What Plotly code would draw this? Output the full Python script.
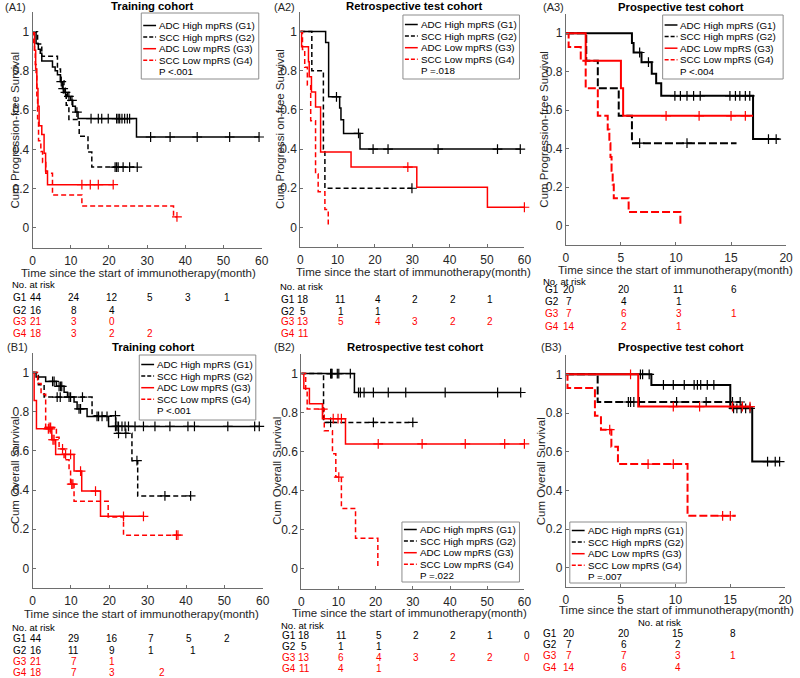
import plotly.graph_objects as go

# ---------------- data ----------------
GROUPS = ["ADC High mpRS (G1)", "SCC High mpRS (G2)", "ADC Low mpRS (G3)", "SCC Low mpRS (G4)"]
ROW_LABELS = ["G1", "G2", "G3", "G4"]

# A1 Training cohort, PFS
A1_G1_T = [0.9, 1.5, 2.0, 2.4, 5.2, 5.9, 6.5, 7.3, 7.8, 8.2, 9.1, 9.9, 10.5, 11.2, 11.9, 27.2]
A1_G1_S = [0.94, 0.91, 0.89, 0.85, 0.82, 0.80, 0.78, 0.745, 0.71, 0.69, 0.67, 0.65, 0.62, 0.59, 0.557, 0.463]
A1_G1_C = [7.5, 8.0, 8.6, 9.5, 10.3, 11.6, 15.3, 17.2, 18.1, 19.8, 22.0, 22.4, 22.8, 23.4, 24.1, 24.8,
           25.4, 30.9, 36.0, 43.1, 51.6, 59.3]
A1_G2_T = [1.3, 2.4, 6.5, 7.3, 8.2, 8.8, 9.5, 12.2, 14.5, 15.5]
A1_G2_S = [0.9375, 0.875, 0.81, 0.75, 0.69, 0.625, 0.552, 0.467, 0.386, 0.31]
A1_G2_C = [21.6, 22.0, 22.4, 23.7, 25.4, 27.4]
A1_G3_T = [0.5, 0.8, 1.1, 1.4, 1.7, 2.4, 3.0, 3.4, 3.9]
A1_G3_S = [0.905, 0.81, 0.71, 0.62, 0.52, 0.476, 0.38, 0.29, 0.22]
A1_G3_C = [12.9, 15.1, 17.2, 21.1]
A1_G4_T = [0.3, 0.5, 0.7, 0.9, 1.1, 1.3, 1.55, 2.15, 2.6, 3.45, 5.2, 12.9, 36.9]
A1_G4_S = [0.944, 0.889, 0.833, 0.778, 0.667, 0.556, 0.444, 0.389, 0.333, 0.278, 0.167, 0.111, 0.056]
A1_G4_C = [37.8]
A1_END = [59.3, 27.4, 21.1, 37.8]
A1_RISK_T = [[0, 10, 20, 30, 40, 50], [0, 10, 20], [0, 10, 20], [0, 10, 20, 30]]
A1_RISK = [[44, 24, 12, 5, 3, 1], [16, 8, 4], [21, 3, 0], [18, 3, 2, 2]]

# A2 Retrospective test cohort, PFS
A2_G1_T = [6.8, 7.6, 10.55, 10.9, 11.6, 16.0]
A2_G1_S = [0.944, 0.667, 0.61, 0.55, 0.48, 0.40]
A2_G1_C = [9.7, 15.6, 19.5, 23.5, 36.9, 52.8, 58.9]
A2_G2_T = [3.1, 6.2, 6.6]
A2_G2_S = [0.8, 0.4, 0.2]
A2_G2_C = [29.9]
A2_G3_T = [0.35, 2.2, 2.4, 3.0, 4.1, 5.45, 13.6, 31.2, 50.1]
A2_G3_S = [0.923, 0.846, 0.769, 0.692, 0.615, 0.385, 0.308, 0.205, 0.103]
A2_G3_C = [28.8, 60.0]
A2_G4_T = [0.6, 1.2, 1.9, 2.8, 4.1, 4.8, 6.6, 7.5]
A2_G4_S = [0.909, 0.818, 0.727, 0.545, 0.273, 0.182, 0.091, 0.0]
A2_G4_C = []
A2_END = [58.9, 29.9, 60.0, 7.5]
A2_RISK_T = [[0, 10, 20, 30, 40, 50], [0, 10, 20], [0, 10, 20, 30, 40, 50], [0]]
A2_RISK = [[18, 11, 4, 2, 2, 1], [5, 1, 1], [13, 5, 4, 3, 2, 2], [11]]

# A3 Prospective test cohort, PFS
A3_G1_T = [6.0, 6.15, 6.87, 7.8, 8.2, 8.66, 17.0]
A3_G1_S = [0.95, 0.90, 0.85, 0.79, 0.74, 0.675, 0.45]
A3_G1_C = [6.7, 7.5, 9.9, 10.4, 11.0, 11.6, 12.2, 14.9, 15.4, 15.8, 16.3, 16.7, 18.4, 19.1]
A3_G2_T = [1.85, 2.9, 4.8, 6.0]
A3_G2_S = [0.857, 0.714, 0.571, 0.429]
A3_G2_C = [6.7, 11.0]
A3_G3_T = [1.8, 5.0, 5.2]
A3_G3_S = [0.857, 0.714, 0.571]
A3_G3_C = [9.1, 12.1, 15.0, 16.3]
A3_G4_T = [0.25, 1.35, 1.8, 2.9, 3.8, 3.95, 4.05, 4.15, 4.25, 4.35, 5.7, 10.4]
A3_G4_S = [0.929, 0.857, 0.714, 0.571, 0.5, 0.429, 0.357, 0.286, 0.214, 0.143, 0.071, 0.0]
A3_G4_C = []
A3_END = [19.4, 15.5, 17.0, 10.4]
A3_RISK_T = [[0, 5, 10, 15], [0, 5, 10], [0, 5, 10, 15], [0, 5, 10]]
A3_RISK = [[20, 20, 11, 6], [7, 4, 1], [7, 6, 3, 1], [14, 2, 1]]

# B1 Training cohort, OS
B1_G1_T = [0.9, 3.4, 6.2, 8.2, 9.1, 10.8, 11.6, 14.2, 19.8]
B1_G1_S = [0.977, 0.955, 0.93, 0.9, 0.875, 0.85, 0.815, 0.776, 0.725]
B1_G1_C = [5.2, 5.6, 6.9, 7.3, 7.6, 9.5, 9.9, 12.1, 12.5, 16.8, 17.2, 18.1, 19.4, 21.6, 22.0, 22.4,
           23.3, 24.1, 25.0, 26.7, 28.9, 31.9, 35.8, 40.5, 42.2, 50.9, 57.9, 59.1]
B1_G2_T = [1.5, 3.0, 15.5, 21.7, 25.9, 27.4]
B1_G2_S = [0.9375, 0.875, 0.78, 0.69, 0.55, 0.37]
B1_G2_C = [6.4, 7.2, 13.0, 21.6, 22.4, 24.3, 27.2, 34.5, 41.2]
B1_G3_T = [0.4, 1.0, 5.0, 6.0, 10.8, 12.8, 17.7]
B1_G3_S = [0.857, 0.713, 0.657, 0.582, 0.497, 0.395, 0.266]
B1_G3_C = [4.1, 4.6, 5.3, 5.6, 8.6, 9.9, 12.5, 16.4, 23.7, 28.9]
B1_G4_T = [1.3, 2.2, 3.4, 6.2, 6.9, 8.2, 9.5, 9.9, 10.8, 19.7, 23.7]
B1_G4_S = [0.944, 0.889, 0.72, 0.67, 0.61, 0.555, 0.5, 0.43, 0.343, 0.263, 0.17]
B1_G4_C = [4.3, 4.7, 7.8, 10.2, 10.5, 37.5, 37.9]
B1_END = [59.1, 41.2, 28.9, 37.9]
B1_RISK_T = [[0, 10, 20, 30, 40, 50], [0, 10, 20, 30, 41], [0, 10, 20], [0, 10, 20, 33]]
B1_RISK = [[44, 29, 16, 7, 5, 2], [16, 11, 9, 1, 1], [21, 7, 1], [18, 7, 3, 2]]

# B2 Retrospective test cohort, OS
B2_G1_T = [14.3]
B2_G1_S = [0.903]
B2_G1_C = [7.9, 8.1, 8.3, 9.7, 10.1, 13.2, 15.4, 15.9, 16.9, 19.4, 23.4, 28.1, 38.7, 52.8, 59.0]
B2_G2_T = [6.0]
B2_G2_S = [0.75]
B2_G2_C = [7.9, 19.4, 30.0]
B2_G3_T = [0.7, 2.2, 5.7, 11.9]
B2_G3_S = [0.923, 0.846, 0.769, 0.64]
B2_G3_C = [8.6, 9.9, 10.8, 20.7, 32.5, 44.1, 54.7, 60.0]
B2_G4_T = [1.2, 1.6, 6.2, 8.4, 9.3, 10.8, 14.6, 20.6]
B2_G4_S = [0.909, 0.818, 0.707, 0.59, 0.47, 0.31, 0.157, 0.0]
B2_G4_C = [5.8, 10.1]
B2_END = [59.0, 30.0, 60.0, 20.6]
B2_RISK_T = [[0, 10, 20, 30, 40, 50, 60], [0, 10, 20], [0, 10, 20, 30, 40, 50, 60], [0, 10, 20]]
B2_RISK = [[18, 11, 5, 2, 2, 1, 0], [5, 1, 1], [13, 6, 4, 3, 2, 2, 0], [11, 4, 1]]

# B3 Prospective test cohort, OS
B3_G1_T = [7.8, 15.0, 17.0]
B3_G1_S = [0.945, 0.824, 0.549]
B3_G1_C = [6.8, 7.0, 7.6, 8.9, 9.8, 10.8, 11.7, 12.0, 12.3, 12.9, 13.5, 15.3, 15.6, 16.0, 16.4,
           16.8, 18.4, 19.1, 19.5]
B3_G2_T = [2.9]
B3_G2_S = [0.857]
B3_G2_C = [5.7, 5.9, 6.2, 6.7, 10.1, 12.8, 15.2, 15.9]
B3_G3_T = [6.6]
B3_G3_S = [0.833]
B3_G3_C = [5.9, 9.8, 12.2, 15.2, 16.1, 16.8]
B3_G4_T = [0.15, 2.65, 3.2, 4.15, 4.75, 11.1]
B3_G4_S = [0.929, 0.786, 0.714, 0.625, 0.536, 0.268]
B3_G4_C = [4.0, 7.5, 9.8, 14.3, 15.0]
B3_END = [19.5, 15.9, 16.8, 15.5]
B3_RISK_T = [[0, 5, 10, 15], [0, 5, 10], [0, 5, 10, 15], [0, 5, 10]]
B3_RISK = [[20, 20, 15, 8], [7, 6, 2], [7, 7, 3, 1], [14, 6, 4]]

P_VALUES = ["P <.001", "P =.018", "P <.004", "P <.001", "P =.022", "P =.007"]
TITLES = ["Training cohort", "Retrospective test cohort", "Prospective test cohort"] * 2
PANEL_TAGS = ["(A1)", "(A2)", "(A3)", "(B1)", "(B2)", "(B3)"]
Y_TITLES = ["Cum Progression-free Survival", "Cum Progressi on-free Survival", "Cum Progression-free Survival",
            "Cum Overall Survival", "Cum Overall Survival", "Cum Overall Survival"]
X_TITLE = "Time since the start of immunotherapy(month)"
Y_TICKS = [0, 0.2, 0.4, 0.6, 0.8, 1]
Y_TICKTEXT = ["0", "0.2", "0.4", "0.6", "0.8", "1"]

CURVES = [
    [(A1_G1_T, A1_G1_S, A1_G1_C), (A1_G2_T, A1_G2_S, A1_G2_C), (A1_G3_T, A1_G3_S, A1_G3_C), (A1_G4_T, A1_G4_S, A1_G4_C)],
    [(A2_G1_T, A2_G1_S, A2_G1_C), (A2_G2_T, A2_G2_S, A2_G2_C), (A2_G3_T, A2_G3_S, A2_G3_C), (A2_G4_T, A2_G4_S, A2_G4_C)],
    [(A3_G1_T, A3_G1_S, A3_G1_C), (A3_G2_T, A3_G2_S, A3_G2_C), (A3_G3_T, A3_G3_S, A3_G3_C), (A3_G4_T, A3_G4_S, A3_G4_C)],
    [(B1_G1_T, B1_G1_S, B1_G1_C), (B1_G2_T, B1_G2_S, B1_G2_C), (B1_G3_T, B1_G3_S, B1_G3_C), (B1_G4_T, B1_G4_S, B1_G4_C)],
    [(B2_G1_T, B2_G1_S, B2_G1_C), (B2_G2_T, B2_G2_S, B2_G2_C), (B2_G3_T, B2_G3_S, B2_G3_C), (B2_G4_T, B2_G4_S, B2_G4_C)],
    [(B3_G1_T, B3_G1_S, B3_G1_C), (B3_G2_T, B3_G2_S, B3_G2_C), (B3_G3_T, B3_G3_S, B3_G3_C), (B3_G4_T, B3_G4_S, B3_G4_C)],
]
ENDS = [A1_END, A2_END, A3_END, B1_END, B2_END, B3_END]
RISK_T = [A1_RISK_T, A2_RISK_T, A3_RISK_T, B1_RISK_T, B2_RISK_T, B3_RISK_T]
RISK = [A1_RISK, A2_RISK, A3_RISK, B1_RISK, B2_RISK, B3_RISK]

# ---------------- layout geometry (pixels) ----------------
W, H = 800, 678
FONT = "Liberation Sans, Arial, sans-serif"
BLACK, RED, TXT, AXC = "#000000", "#ff0000", "#262626", "#6e6e6e"
GCOL = [BLACK, BLACK, RED, RED]
GDASH = ["solid", "dash", "solid", "dash"]

PANELS = [
    dict(x=(30, 262), y=(12, 247.5), xmax=60, dtick=10, tag=(0, 7), title=(151, 6), ytx=12, xt=(137, 273),
         leg=(140, 13, 259, 79, 25.5), nar=(7, 284, "left"), rows=[297, 310, 322, 334], glx=8, lw=1.5),
    dict(x=(301, 528), y=(12, 247), xmax=60, dtick=10, tag=(272, 7), title=(416, 6), ytx=280, xt=(416, 272),
         leg=(405, 15, 523, 79, 24.5), nar=(278, 286, "left"), rows=[299, 311, 322, 334], glx=279, lw=1.5),
    dict(x=(570, 793), y=(14, 245), xmax=20, dtick=5, tag=(545, 7), title=(687, 7), ytx=547, xt=(681, 270),
         leg=(668, 15, 790, 79, 25), nar=(545, 281, "left"), rows=[290, 301, 313, 326], glx=547, lw=2),
    dict(x=(30, 263), y=(353, 588), xmax=60, dtick=10, tag=(2, 347), title=(152, 347), ytx=12, xt=(140, 614),
         leg=(138, 355, 256, 420, 364.5), nar=(7, 627, "left"), rows=[638, 650, 661, 672], glx=8, lw=1.5),
    dict(x=(302, 528), y=(354, 588.5), xmax=60, dtick=10, tag=(272, 347), title=(417, 347), ytx=278, xt=(412, 613),
         leg=(404, 522, 523, 582, 529.5), nar=(279, 625, "left"), rows=[635, 646, 657, 668], glx=280, lw=1.5),
    dict(x=(570, 792), y=(355, 587), xmax=20, dtick=5, tag=(543, 347), title=(687, 347), ytx=545, xt=(682, 610),
         leg=(574, 522, 692, 583, 530.5), nar=(665, 622, "center"), rows=[633, 644, 655, 667], glx=545, lw=2),
]


def px(x):
    return x / W


def py(y):
    return 1 - y / H


def step_xy(t, s, end):
    xs = [0.0] + list(t)
    ys = [1.0] + list(s)
    if end > xs[-1]:
        xs.append(end)
        ys.append(ys[-1])
    return xs, ys


def surv_at(t, s, c):
    v = 1.0
    for ti, si in zip(t, s):
        if ti <= c:
            v = si
    return v


fig = go.Figure()
annotations = []
shapes = []

for i, P in enumerate(PANELS):
    xa = "x" if i == 0 else f"x{i+1}"
    ya = "y" if i == 0 else f"y{i+1}"
    dash_pat = "8px,3px" if P["lw"] >= 2 else "5px,3px"
    for g in range(4):
        t, s, c = CURVES[i][g]
        xs, ys = step_xy(t, s, ENDS[i][g])
        fig.add_trace(go.Scatter(
            x=xs, y=ys, mode="lines", xaxis=xa, yaxis=ya, showlegend=False, hoverinfo="skip",
            line=dict(shape="hv", color=GCOL[g], width=P["lw"],
                      dash=(dash_pat if GDASH[g] == "dash" else "solid"))))
        if c:
            fig.add_trace(go.Scatter(
                x=c, y=[surv_at(t, s, cc) for cc in c], mode="markers", xaxis=xa, yaxis=ya,
                showlegend=False, hoverinfo="skip", cliponaxis=False,
                marker=dict(symbol="cross-thin", size=7, color=GCOL[g],
                            line=dict(width=1.2, color=GCOL[g]))))

    axkey = "" if i == 0 else str(i + 1)
    fig.layout[f"xaxis{axkey}"] = dict(
        domain=[px(P["x"][0]), px(P["x"][1])], anchor=ya, range=[0, P["xmax"]],
        tickmode="array", tickvals=list(range(0, P["xmax"] + 1, P["dtick"])),
        ticks="inside", ticklen=3, tickcolor=AXC, showline=True, linecolor=AXC, linewidth=1,
        showgrid=False, zeroline=False, tickfont=dict(family=FONT, size=12, color=TXT),
        ticklabelstandoff=2, fixedrange=True)
    fig.layout[f"yaxis{axkey}"] = dict(
        domain=[py(P["y"][1]), py(P["y"][0])], anchor=xa, range=[-0.1, 1.1],
        tickmode="array", tickvals=Y_TICKS, ticktext=Y_TICKTEXT,
        ticks="inside", ticklen=3, tickcolor=AXC, showline=True, linecolor=AXC, linewidth=1,
        showgrid=False, zeroline=False, tickfont=dict(family=FONT, size=12, color=TXT), fixedrange=True)

    # panel tag and title
    annotations.append(dict(text=PANEL_TAGS[i], x=px(P["tag"][0]), y=py(P["tag"][1]), xref="paper", yref="paper",
                            xanchor="left", yanchor="middle", showarrow=False,
                            font=dict(family=FONT, size=11, color=TXT)))
    annotations.append(dict(text="<b>" + TITLES[i] + "</b>", x=px(P["title"][0]), y=py(P["title"][1]),
                            xref="paper", yref="paper", xanchor="center", yanchor="middle", showarrow=False,
                            font=dict(family=FONT, size=11.3, color=BLACK)))
    # axis titles
    annotations.append(dict(text=Y_TITLES[i], x=px(P["ytx"]), y=py((P["y"][0] + P["y"][1]) / 2),
                            xref="paper", yref="paper", xanchor="center", yanchor="middle", textangle=-90,
                            showarrow=False, font=dict(family=FONT, size=11.5, color=TXT)))
    annotations.append(dict(text=X_TITLE, x=px(P["xt"][0]), y=py(P["xt"][1]), xref="paper", yref="paper",
                            xanchor="center", yanchor="middle", showarrow=False,
                            font=dict(family=FONT, size=11.5, color=TXT)))

    # legend box
    lx0, ly0, lx1, ly1, first = P["leg"]
    shapes.append(dict(type="rect", xref="paper", yref="paper", x0=px(lx0), x1=px(lx1), y0=py(ly1), y1=py(ly0),
                       line=dict(color="#8c8c8c", width=1), fillcolor="white", layer="above"))
    for g in range(5):
        yy = first + 11.6 * g
        if g < 4:
            shapes.append(dict(type="line", xref="paper", yref="paper", x0=px(lx0 + 2), x1=px(lx0 + 15),
                               y0=py(yy), y1=py(yy), layer="above",
                               line=dict(color=GCOL[g], width=1.5,
                                         dash=("4px,2px" if GDASH[g] == "dash" else "solid"))))
            txt = GROUPS[g]
        else:
            txt = P_VALUES[i]
        annotations.append(dict(text=txt, x=px(lx0 + 16), y=py(yy), xref="paper", yref="paper",
                                xanchor="left", yanchor="middle", showarrow=False,
                                font=dict(family=FONT, size=9.8, color=BLACK)))

    # number at risk table
    nx, ny, nanc = P["nar"]
    annotations.append(dict(text="No. at risk", x=px(nx), y=py(ny), xref="paper", yref="paper",
                            xanchor=nanc, yanchor="middle", showarrow=False,
                            font=dict(family=FONT, size=9.5, color=BLACK)))
    for g in range(4):
        col = GCOL[g]
        ry = P["rows"][g]
        annotations.append(dict(text=ROW_LABELS[g], x=px(P["glx"]), y=py(ry), xref="paper", yref="paper",
                                xanchor="left", yanchor="middle", showarrow=False,
                                font=dict(family=FONT, size=10, color=col)))
        for tt, nn in zip(RISK_T[i][g], RISK[i][g]):
            annotations.append(dict(text=str(nn), x=tt, y=py(ry), xref=xa, yref="paper", xshift=3,
                                    xanchor="center", yanchor="middle", showarrow=False,
                                    font=dict(family=FONT, size=10, color=col)))

fig.update_layout(
    width=W, height=H, autosize=False, margin=dict(l=0, r=0, t=0, b=0),
    paper_bgcolor="white", plot_bgcolor="white", showlegend=False,
    annotations=annotations, shapes=shapes, font=dict(family=FONT))

fig.write_html("out.html", config={"displayModeBar": False, "staticPlot": True},
               post_script="document.body.style.margin='0px';document.body.style.overflow='hidden';")
